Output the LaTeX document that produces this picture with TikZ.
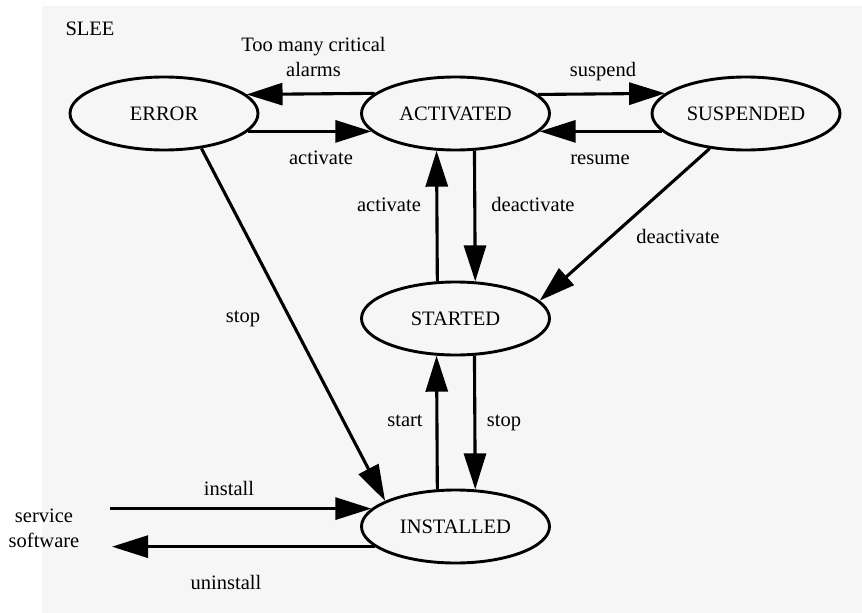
\documentclass[tikz,border=0pt]{standalone}
\usepackage{fontspec}
\setmainfont{Liberation Serif}
\usetikzlibrary{arrows.meta,shapes.geometric}
\definecolor{panelgray}{HTML}{F6F6F6}
\begin{document}
\begin{tikzpicture}[x=1pt,y=-1pt,
  state/.style={ellipse, draw, line width=2.9pt, minimum width=188pt,
    minimum height=73pt, inner sep=0pt, font=\fontsize{20.5}{25}\selectfont},
  arr/.style={line width=3.1pt, -{Triangle[length=36pt,width=22pt]}},
  lbl/.style={font=\fontsize{20.5}{25}\selectfont, inner sep=0pt, align=center}]
\useasboundingbox (0,0) rectangle (862,613);
% SLEE panel
\fill[panelgray] (42,6) rectangle (862,613);
\node[lbl, anchor=base] (slee) at (90,35) {SLEE};

% states
\node[state] (err) at (164,113.5) {ERROR};
\node[state] (act) at (455.5,113.5) {ACTIVATED};
\node[state] (sus) at (746,113.5) {SUSPENDED};
\node[state] (sta) at (455.5,318.5) {STARTED};
\node[state] (ins) at (455.5,526.5) {INSTALLED};

% outside the SLEE
\node[lbl] (sw) at (44,528) {service\\software};
\path (ins.168.7) coordinate (insin) (ins.194.4) coordinate (insout);
\coordinate (xin) at (110,0);
\coordinate (xout) at (112,0);
\coordinate (swin) at (insin -| xin);
\coordinate (swout) at (insout -| xout);

% transitions in the top row
\draw[arr] (act.166.6) -- (err.13.4);
\draw[arr] (err.-12.6) -- (act.192.6);
\draw[arr] (act.13.4) -- (sus.166.6);
\draw[arr] (sus.192.6) -- (act.-12.6);

% vertical transitions
\draw[arr] (sta.116.6) -- (act.243.4);
\draw[arr] (act.297.8) -- (sta.62.2);
\draw[arr] (ins.116.6) -- (sta.243.4);
\draw[arr] (sta.297.8) -- (ins.62.2);

% diagonal transitions
\draw[arr] (sus.224) -- (sta.12);
\draw[arr] (err.317) -- (ins.160);

% install / uninstall
\draw[arr] (swin) -- (insin);
\draw[arr] (insout) -- (swout);

% transition labels
\node[lbl] (l-alarm) at (313.5,56.7) {Too many critical\\alarms};
\node[lbl, anchor=base] (l-act1) at (321,164) {activate};
\node[lbl, anchor=base] (l-susp) at (603,76) {suspend};
\node[lbl, anchor=base] (l-res) at (600,164) {resume};
\node[lbl, anchor=base] (l-act2) at (389,211.7) {activate};
\node[lbl, anchor=base] (l-deact1) at (533,211.7) {deactivate};
\node[lbl, anchor=base] (l-deact2) at (678,243) {deactivate};
\node[lbl, anchor=base] (l-stop1) at (243,322.7) {stop};
\node[lbl, anchor=base] (l-start) at (405,426) {start};
\node[lbl, anchor=base] (l-stop2) at (504,426) {stop};
\node[lbl, anchor=base] (l-inst) at (229,495.4) {install};
\node[lbl, anchor=base] (l-uninst) at (226,589) {uninstall};
\end{tikzpicture}
\end{document}
